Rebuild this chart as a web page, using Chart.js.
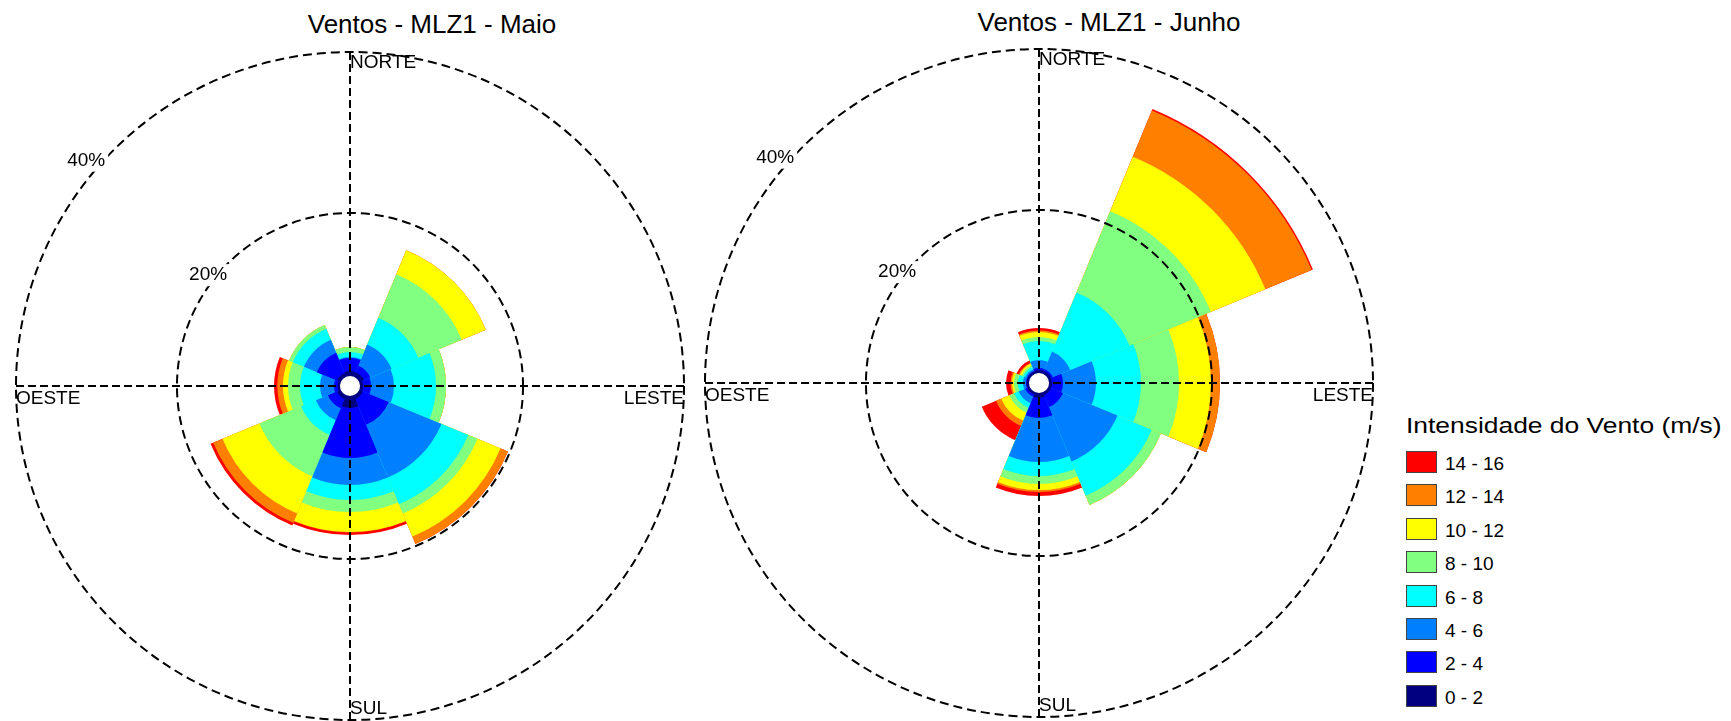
<!DOCTYPE html>
<html lang="pt">
<head>
<meta charset="utf-8">
<title>Ventos - MLZ1</title>
<script src="https://cdn.jsdelivr.net/npm/chart.js@4.4.0/dist/chart.umd.min.js"></script>
<style>
    html, body { margin: 0; padding: 0; background: #fff; }
    body {
        width: 1731px; height: 721px; position: relative; overflow: hidden;
        font-family: "Liberation Sans", Arial, sans-serif; color: #000;
    }
    .rose { position: absolute; }
    .chart-title {
        position: absolute; font-size: 26px; line-height: 26px;
        white-space: nowrap; transform: translateX(-50%);
    }
    .legend-title {
        position: absolute; left: 1406px; top: 415px;
        font-size: 22px; line-height: 22px; white-space: nowrap;
        transform: scaleX(1.2); transform-origin: left top;
    }
    .legend-box {
        position: absolute; left: 1406px; width: 29px; height: 20px;
        border: 1px solid #444;
    }
    .legend-label {
        position: absolute; left: 1445px; font-size: 19px; line-height: 19px; white-space: nowrap;
    }
</style>
</head>
<body>
<div class="chart-title" style="left:432px; top:11px;">Ventos - MLZ1 - Maio</div>
<div class="chart-title" style="left:1109px; top:9px;">Ventos - MLZ1 - Junho</div>
<canvas id="roseMaio" class="rose" width="680" height="680" style="left:10px; top:46px;"></canvas>
<canvas id="roseJunho" class="rose" width="680" height="680" style="left:699px; top:43px;"></canvas>
<div id="legend"></div>

<script>
const directions = ['N', 'NE', 'E', 'SE', 'S', 'SW', 'W', 'NW'];
const speedBins = ['0 - 2', '2 - 4', '4 - 6', '6 - 8', '8 - 10', '10 - 12', '12 - 14', '14 - 16'];
const binColors = ['#000080', '#0000ff', '#0080ff', '#00ffff', '#80ff80', '#ffff00', '#ff8000', '#ff0000'];

// frequency (%) per direction (rows, same order as directions) and speed bin (columns)
const maio = [
    [0.36, 1.62, 0.12, 0.62, 0.63, 0, 0, 0],
    [0.36, 0.87, 2.86, 3.60, 5.84, 3.24, 0, 0],
    [0.12, 0.99, 2.86, 5.22, 1.24, 0, 0, 0],
    [0.24, 3.48, 7.08, 3.60, 1.25, 3.10, 1.00, 0],
    [1.23, 6.22, 3.35, 1.87, 1.49, 2.48, 0.06, 0.31],
    [0.24, 1.24, 1.62, 1.99, 5.59, 4.97, 1.24, 0.37],
    [0.05, 0.44, 1.74, 2.48, 1.49, 0.63, 0.70, 0.41],
    [0.24, 2.73, 1.74, 1.49, 0.50, 0, 0, 0]
];
const junho = [
    [0.12, 0.24, 1.00, 2.36, 0.50, 0.62, 0.18, 0.31],
    [0.12, 0.24, 2.36, 7.96, 10.93, 7.33, 6.22, 0.18],
    [0.12, 1.36, 4.10, 5.59, 4.73, 3.97, 1.12, 0],
    [0.12, 1.61, 7.33, 4.60, 1.24, 0, 0, 0],
    [0.36, 2.49, 5.47, 1.74, 0.99, 0.75, 0.24, 0.50],
    [0.05, 0.31, 0.87, 0.62, 0.63, 1.11, 0.69, 1.92],
    [0.05, 0.07, 0.37, 0.62, 0.50, 0.24, 0.19, 0.56],
    [0.05, 0.07, 0.24, 0.25, 0.25, 0.25, 0.12, 0.31]
];

const ringTicks = [20, 40];
const ringLabels = ['20%', '40%'];
const cardinalLabels = ['NORTE', 'LESTE', 'SUL', 'OESTE'];

// stacked bins: each dataset holds the running total up to its bin
function cumulative(rows, binIndex) {
    return rows.map(row => row.slice(0, binIndex + 1).reduce((a, b) => a + b, 0));
}

const roseDecor = {
    id: 'roseDecor',
    afterDraw(chart) {
        const ctx = chart.ctx;
        const r = chart.scales.r;
        const cx = r.xCenter, cy = r.yCenter, R = r.drawingArea;
        ctx.save();

        // N-S / E-W axes
        ctx.strokeStyle = '#000';
        ctx.lineWidth = 2;
        ctx.setLineDash([8, 4]);
        ctx.beginPath();
        ctx.moveTo(cx - R, cy); ctx.lineTo(cx + R, cy);
        ctx.moveTo(cx, cy - R); ctx.lineTo(cx, cy + R);
        ctx.stroke();

        // white hole in the middle
        ctx.setLineDash([]);
        ctx.fillStyle = '#fff';
        ctx.beginPath();
        ctx.arc(cx, cy, r.getDistanceFromCenterForValue(0) - 2, 0, Math.PI * 2);
        ctx.fill();

        ctx.fillStyle = '#000';
        ctx.font = '19px "Liberation Sans", Arial, sans-serif';
        ctx.textBaseline = 'alphabetic';
        ctx.textAlign = 'left';
        ctx.fillText(cardinalLabels[0], cx, cy - R + 16);
        ctx.fillText(cardinalLabels[2], cx, cy + R - 6);
        ctx.fillText(cardinalLabels[3], cx - R, cy + 18);
        ctx.textAlign = 'right';
        ctx.fillText(cardinalLabels[1], cx + R, cy + 18);

        // ring labels sit on the circles, NW side
        const angles = [-52, -49.5];
        const offsets = [7, 13];
        ringTicks.forEach((v, i) => {
            const a = angles[i] * Math.PI / 180;
            const d = r.getDistanceFromCenterForValue(v) + offsets[i];
            const x = cx + d * Math.sin(a);
            const y = cy - d * Math.cos(a);
            const w = ctx.measureText(ringLabels[i]).width;
            ctx.fillStyle = '#fff';
            ctx.fillRect(x - w / 2 - 3, y - 11, w + 6, 22);
            ctx.fillStyle = '#000';
            ctx.textAlign = 'center';
            ctx.textBaseline = 'middle';
            ctx.fillText(ringLabels[i], x, y);
        });
        ctx.restore();
    }
};

function makeRose(canvasId, rows) {
    const ctx = document.getElementById(canvasId).getContext('2d');
    return new Chart(ctx, {
        type: 'polarArea',
        data: {
            labels: directions,
            datasets: speedBins.map((label, i) => ({
                label: label,
                data: cumulative(rows, i),
                backgroundColor: binColors[i],
                borderWidth: 0
            }))
        },
        options: {
            responsive: false,
            maintainAspectRatio: false,
            animation: false,
            events: [],
            layout: { padding: 6 },
            plugins: {
                legend: { display: false },
                tooltip: { enabled: false }
            },
            scales: {
                r: {
                    min: -1.5,
                    max: 40,
                    startAngle: -22.5,
                    ticks: { display: false, stepSize: 20 },
                    grid: {
                        z: 1,
                        circular: true,
                        lineWidth: 2,
                        color: c => ringTicks.includes(c.tick && c.tick.value) ? '#000' : 'rgba(0,0,0,0)'
                    },
                    border: { dash: [9, 5] },
                    angleLines: { display: false },
                    pointLabels: { display: false }
                }
            }
        },
        plugins: [roseDecor]
    });
}

makeRose('roseMaio', maio);
makeRose('roseJunho', junho);

// legend, highest speed on top
const legend = document.getElementById('legend');
let html = '<div class="legend-title">Intensidade do Vento (m/s)</div>';
speedBins.slice().reverse().forEach((label, i) => {
    const color = binColors[speedBins.length - 1 - i];
    const top = 451 + i * 33.4;
    html += `<div class="legend-box" style="top:${top}px; background:${color}"></div>`;
    html += `<div class="legend-label" style="top:${top + 3}px">${label}</div>`;
});
legend.innerHTML = html;
</script>
</body>
</html>
